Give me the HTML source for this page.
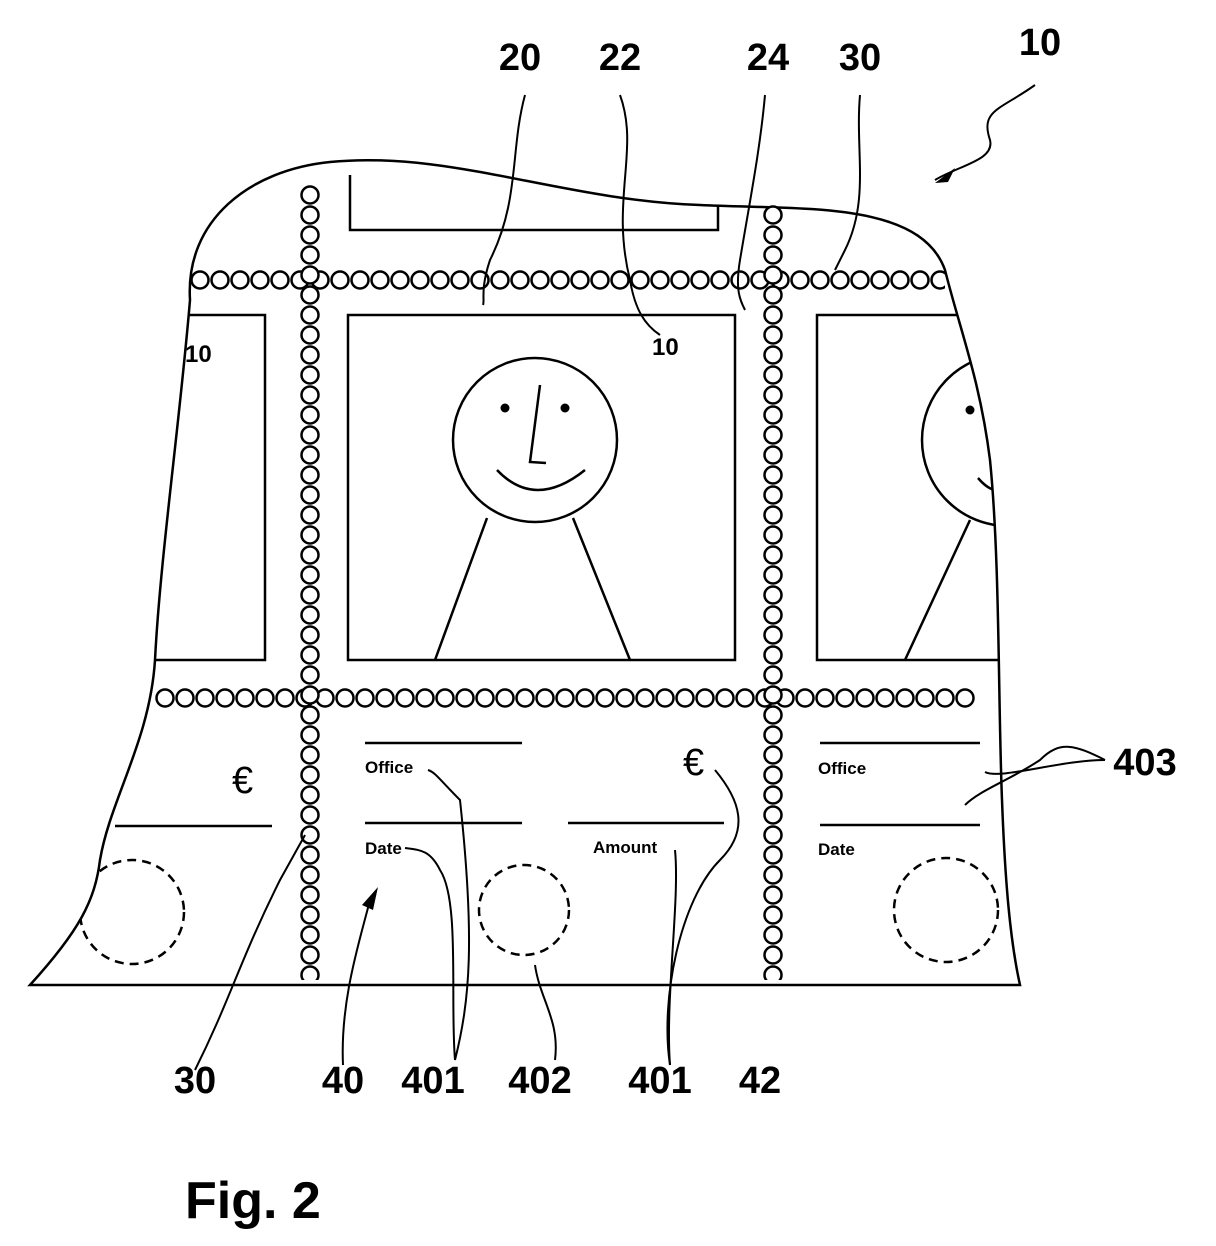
<!DOCTYPE html>
<html><head><style>
html,body{margin:0;padding:0;background:#fff;}
svg{display:block;}
.l{font-family:"Liberation Sans",sans-serif;font-weight:bold;font-size:38px;}
.s{font-family:"Liberation Sans",sans-serif;font-weight:bold;font-size:17px;}
</style></head><body>
<svg width="1216" height="1246" viewBox="0 0 1216 1246" xmlns="http://www.w3.org/2000/svg">
<defs>
<pattern id="ph1" patternUnits="userSpaceOnUse" x="190" y="270" width="20" height="20"><circle cx="10" cy="10" r="8.5" fill="#fff" stroke="#000" stroke-width="2.5"/></pattern>
<pattern id="ph2" patternUnits="userSpaceOnUse" x="155" y="688" width="20" height="20"><circle cx="10" cy="10" r="8.5" fill="#fff" stroke="#000" stroke-width="2.5"/></pattern>
<pattern id="pv1" patternUnits="userSpaceOnUse" x="300" y="185" width="20" height="20"><circle cx="10" cy="10" r="8.5" fill="#fff" stroke="#000" stroke-width="2.5"/></pattern>
<pattern id="pv2" patternUnits="userSpaceOnUse" x="763" y="205" width="20" height="20"><circle cx="10" cy="10" r="8.5" fill="#fff" stroke="#000" stroke-width="2.5"/></pattern>
<clipPath id="cl"><path d="M190,300 C185,220 250,170 330,162 C450,150 560,200 700,205 C800,210 920,200 945,270 C960,330 980,380 990,460 C1000,560 998,700 1002,800 C1005,880 1010,940 1020,985 L30,985 C80,930 95,900 100,860 C110,800 150,740 155,660 C160,560 180,420 190,300 Z"/></clipPath>
</defs>
<g fill="none" stroke="#000" stroke-width="2.5">
<path d="M190,300 C185,220 250,170 330,162 C450,150 560,200 700,205 C800,210 920,200 945,270 C960,330 980,380 990,460 C1000,560 998,700 1002,800 C1005,880 1010,940 1020,985 L30,985 C80,930 95,900 100,860 C110,800 150,740 155,660 C160,560 180,420 190,300 Z"/>
<g clip-path="url(#cl)">
<path d="M350,175 V230 H718 V205"/>
<rect x="348" y="315" width="387" height="345"/>
<path d="M150,315 H265 V660 H150"/>
<path d="M1000,315 H817 V660 H1000"/>
<circle cx="535" cy="440" r="82"/>
<path d="M540,385 L530,462 L546,463"/>
<path d="M497,470 Q535,510 585,470"/>
<path d="M487,518 L435,660 M573,518 L630,660"/>
<circle cx="1008" cy="440" r="86"/>
<path d="M978,478 Q990,492 1000,490"/>
<path d="M970,520 L905,660"/>
<path d="M115,826 H272 M365,743 H522 M365,823 H522 M568,823 H724 M820,743 H980 M820,825 H980"/>
<g stroke-dasharray="9,6"><circle cx="132" cy="912" r="52"/><circle cx="524" cy="910" r="45"/><circle cx="946" cy="910" r="52"/></g>
</g>
<rect x="190" y="270" width="755" height="20" fill="url(#ph1)" stroke="none"/>
<rect x="155" y="688" width="820" height="20" fill="url(#ph2)" stroke="none"/>
<rect x="300" y="185" width="20" height="795" fill="url(#pv1)" stroke="none"/>
<rect x="763" y="205" width="20" height="775" fill="url(#pv2)" stroke="none"/>
<g stroke-width="2">
<path d="M525,95 C510,150 520,200 490,260 C480,290 485,300 483,305"/>
<path d="M620,95 C640,150 610,200 630,280 C635,310 645,325 660,335"/>
<path d="M765,95 C760,150 750,200 740,260 C735,290 740,300 745,310"/>
<path d="M860,95 C855,150 870,200 845,250 L835,270"/>
<path d="M1035,85 C1000,110 980,110 990,140 C995,160 960,165 935,180"/>
<path d="M1105,760 C1075,745 1060,740 1040,760 C1010,780 980,790 965,805"/>
<path d="M1105,760 C1060,760 1000,780 985,772"/>
<path d="M195,1070 C230,1000 240,960 280,880 L305,835"/>
<path d="M343,1065 C340,1000 360,940 370,900"/>
<path d="M455,1060 C470,1000 475,940 460,800 C440,780 435,772 428,770"/>
<path d="M455,1060 C450,1000 460,900 440,870 C430,850 420,850 405,848"/>
<path d="M555,1060 C560,1020 540,1000 535,965"/>
<path d="M670,1065 C665,1000 680,900 675,850"/>
<path d="M670,1065 C660,1000 680,900 720,860 C750,830 740,800 715,770"/>
</g>
<path d="M935,183 L955,168 L948,182 Z M362,905 L378,887 L373,910 Z" fill="#000" stroke="none"/>
</g>
<circle cx="505" cy="408" r="4.5" fill="#000"/><circle cx="565" cy="408" r="4.5" fill="#000"/><circle cx="970" cy="410" r="4.5" fill="#000"/>
<g class="s">
<text x="365" y="773">Office</text><text x="365" y="854">Date</text><text x="593" y="853">Amount</text>
<text x="818" y="774">Office</text><text x="818" y="855">Date</text>
<text x="185" y="362" font-size="24">10</text><text x="652" y="355" font-size="24">10</text>
</g>
<text x="232" y="793" font-family="Liberation Sans,sans-serif" font-size="38">€</text>
<text x="683" y="775" font-family="Liberation Sans,sans-serif" font-size="38">€</text>
<g class="l" text-anchor="middle">
<text x="520" y="70">20</text><text x="620" y="70">22</text><text x="768" y="70">24</text><text x="860" y="70">30</text><text x="1040" y="55">10</text>
<text x="1145" y="775">403</text>
<text x="195" y="1093">30</text><text x="343" y="1093">40</text><text x="433" y="1093">401</text><text x="540" y="1093">402</text><text x="660" y="1093">401</text><text x="760" y="1093">42</text>
</g>
<text x="185" y="1218" font-family="Liberation Sans,sans-serif" font-weight="bold" font-size="52">Fig. 2</text>
</svg>
</body></html>
